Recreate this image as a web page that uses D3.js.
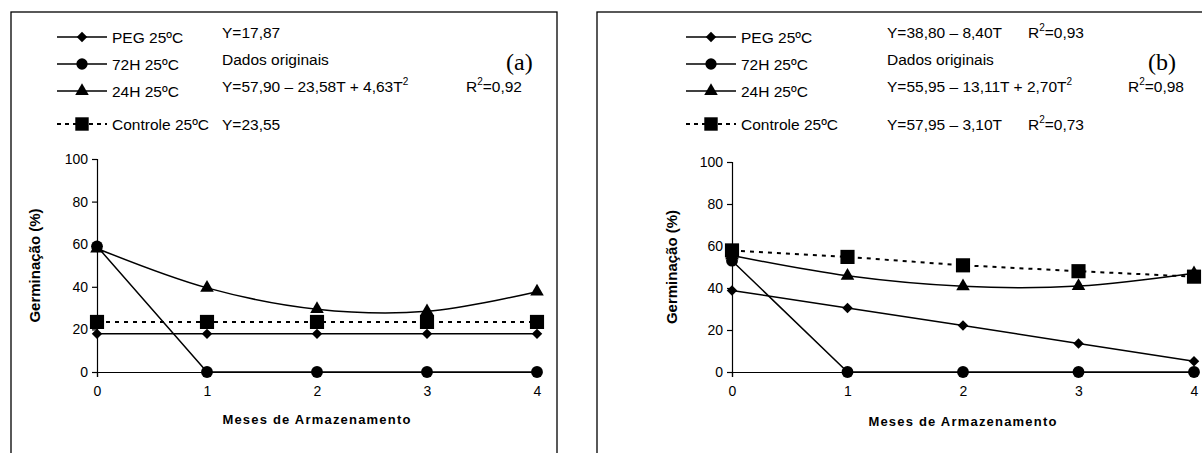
<!DOCTYPE html>
<html><head><meta charset="utf-8">
<script src="https://cdn.jsdelivr.net/npm/d3@7"></script>
<style>
html,body{margin:0;padding:0;background:#fff;}
svg{display:block;font-family:"Liberation Sans",Arial,sans-serif;}
</style></head>
<body>
<svg id="c" width="1202" height="453"></svg>
<script>
// ---- data ----
const months = [0, 1, 2, 3, 4];
const yTicks = [0, 20, 40, 60, 80, 100];
const seriesNames = ["PEG 25ºC", "72H 25ºC", "24H 25ºC", "Controle 25ºC"];
// panel (a)
const pegA = [17.9, 17.9, 17.9, 17.9, 17.9];
const h72A = [59, 0, 0, 0, 0];
const h24A = [58, 39.5, 29.5, 28.5, 37.7];
const ctrlA = [23.5, 23.5, 23.5, 23.5, 23.5];
const eqA = [["Y=17,87", null], ["Dados originais", null], ["Y=57,90 – 23,58T + 4,63T", "R²=0,92"], ["Y=23,55", null]];
// panel (b)
const pegB = [38.8, 30.5, 22.1, 13.6, 5.1];
const h72B = [53, 0, 0, 0, 0];
const h24B = [55.5, 45.8, 40.8, 40.9, 47];
const ctrlB = [57.9, 54.8, 50.8, 48, 45.4];
const eqB = [["Y=38,80 – 8,40T", "R²=0,93"], ["Dados originais", null], ["Y=55,95 – 13,11T + 2,70T", "R²=0,98"], ["Y=57,95 – 3,10T", "R²=0,73"]];

const svg = d3.select("#c");
const LF = "15.5px";

function drawPanel(cfg) {
  const g = svg.append("g");
  g.append("rect").attr("x", cfg.box[0]).attr("y", cfg.box[1]).attr("width", cfg.box[2]).attr("height", cfg.box[3])
    .attr("fill", "none").attr("stroke", "#000").attr("stroke-width", 1.3);

  const x = d3.scaleLinear().domain([0, 4]).range(cfg.xr);
  const y = d3.scaleLinear().domain([0, 100]).range(cfg.yr);

  const ya = g.append("g").attr("transform", `translate(${cfg.xr[0]},0)`)
    .call(d3.axisLeft(y).tickValues(yTicks).tickFormat(d3.format("d")).tickSize(5).tickPadding(4));
  const xa = g.append("g").attr("transform", `translate(0,${cfg.yr[0]})`)
    .call(d3.axisBottom(x).tickValues(months).tickFormat(d3.format("d")).tickSize(5).tickPadding(9));
  [ya, xa].forEach(a => {
    a.select(".domain").attr("stroke", "#000").attr("stroke-width", 1.2);
    a.selectAll(".tick line").attr("stroke", "#000").attr("stroke-width", 1.2);
    a.selectAll(".tick text").attr("fill", "#000").style("font-size", "14px").style("font-family", "Liberation Sans, Arial, sans-serif");
  });
  g.append("text").attr("transform", `translate(${cfg.ytx},${(cfg.yr[0] + cfg.yr[1]) / 2}) rotate(-90)`)
    .attr("text-anchor", "middle").style("font-size", "15px").style("font-weight", "bold").text("Germinação (%)");
  g.append("text").attr("x", (cfg.xr[0] + cfg.xr[1]) / 2).attr("y", cfg.xty)
    .attr("text-anchor", "middle").style("font-size", "13px").style("font-weight", "bold").style("letter-spacing", "1.2px")
    .text("Meses de Armazenamento");

  const line = d3.line().x((d, i) => x(months[i])).y(d => y(d));
  const smooth = d3.line().x((d, i) => x(months[i])).y(d => y(d)).curve(d3.curveCatmullRom.alpha(0.5));

  const data = cfg.data;
  g.append("path").datum(data.ctrl).attr("d", line).attr("fill", "none")
    .attr("stroke", "#000").attr("stroke-width", 2).attr("stroke-dasharray", "4,5");
  g.append("path").datum(data.peg).attr("d", line).attr("fill", "none").attr("stroke", "#000").attr("stroke-width", 1.5);
  g.append("path").datum(data.h72).attr("d", line).attr("fill", "none").attr("stroke", "#000").attr("stroke-width", 1.5);
  g.append("path").datum(data.h24).attr("d", smooth).attr("fill", "none").attr("stroke", "#000").attr("stroke-width", 1.5);

  const sym = {
    peg: d3.symbol().type(d3.symbolDiamond2).size(70),
    h72: d3.symbol().type(d3.symbolCircle).size(110),
    h24: d3.symbol().type(d3.symbolTriangle).size(80),
    ctrl: d3.symbol().type(d3.symbolSquare).size(200)
  };
  ["ctrl", "peg", "h24", "h72"].forEach(k => {
    g.selectAll(null).data(data[k]).enter().append("path")
      .attr("transform", (d, i) => `translate(${x(months[i])},${y(d)})`)
      .attr("d", sym[k]).attr("fill", "#000");
  });

  // legend
  const keys = ["peg", "h72", "h24", "ctrl"];
  const lsym = {
    peg: d3.symbol().type(d3.symbolDiamond2).size(70),
    h72: d3.symbol().type(d3.symbolCircle).size(100),
    h24: d3.symbol().type(d3.symbolTriangle).size(80),
    ctrl: d3.symbol().type(d3.symbolSquare).size(180)
  };
  keys.forEach((k, i) => {
    const ly = cfg.legY[i];
    const lg = g.append("g");
    lg.append("line").attr("x1", cfg.legX[0]).attr("x2", cfg.legX[1]).attr("y1", ly).attr("y2", ly)
      .attr("stroke", "#000").attr("stroke-width", k === "ctrl" ? 2 : 1.5)
      .attr("stroke-dasharray", k === "ctrl" ? "4,4" : null);
    lg.append("path").attr("transform", `translate(${(cfg.legX[0] + cfg.legX[1]) / 2},${ly})`).attr("d", lsym[k]).attr("fill", "#000");
    lg.append("text").attr("x", cfg.legX[1] + 5).attr("y", ly + 6).style("font-size", LF).text(seriesNames[i]);
    const eq = cfg.eq[i];
    const t = lg.append("text").attr("x", cfg.eqX[i]).attr("y", ly + cfg.eqDy[i]).style("font-size", LF);
    t.append("tspan").text(eq[0]);
    if (eq[0].endsWith("T") && eq[0].includes("+")) {
      t.append("tspan").attr("dy", -7).style("font-size", "10px").text("2");
    }
    if (eq[1]) {
      const r = lg.append("text").attr("x", cfg.r2X[i]).attr("y", ly + cfg.eqDy[i]).style("font-size", LF);
      r.append("tspan").text("R");
      r.append("tspan").attr("dy", -7).style("font-size", "10px").text("2");
      r.append("tspan").attr("dy", 7).text("=" + eq[1].split("=")[1]);
    }
  });
  g.append("text").attr("x", cfg.lab[0]).attr("y", cfg.lab[1]).style("font-family", "Liberation Serif, Times New Roman, serif")
    .style("font-size", "24px").text(cfg.label);
}

drawPanel({
  box: [11, 12, 546, 520],
  xr: [97, 537], yr: [372, 159],
  ytx: 40, xty: 424,
  data: { peg: pegA, h72: h72A, h24: h24A, ctrl: ctrlA },
  legX: [57, 107], legY: [37, 64, 91, 124],
  eqX: [222, 222, 222, 222], eqDy: [1, 1, 1, 6], r2X: [0, 0, 466, 0],
  eq: eqA, label: "(a)", lab: [506, 70]
});
drawPanel({
  box: [597, 12, 700, 520],
  xr: [732, 1194], yr: [372, 162],
  ytx: 677, xty: 426,
  data: { peg: pegB, h72: h72B, h24: h24B, ctrl: ctrlB },
  legX: [686, 736], legY: [37, 64, 91, 124],
  eqX: [887, 887, 887, 887], eqDy: [1, 1, 1, 6], r2X: [1028, 0, 1128, 1028],
  eq: eqB, label: "(b)", lab: [1148, 70]
});
</script>
</body></html>
